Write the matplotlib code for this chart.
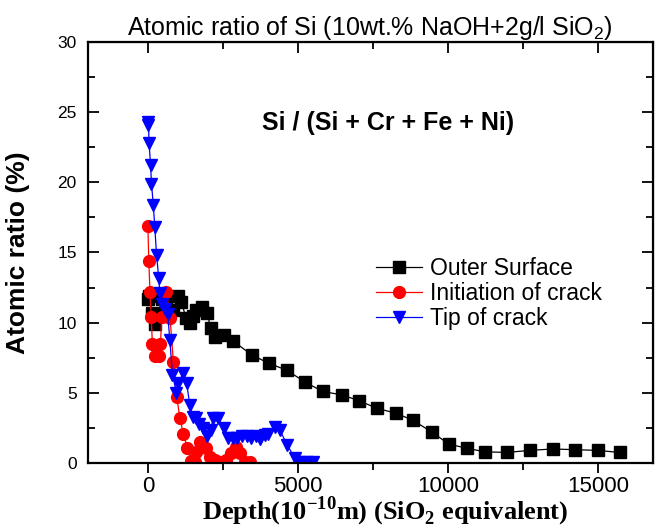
import matplotlib
matplotlib.use("Agg")
import matplotlib.pyplot as plt
from matplotlib.ticker import MultipleLocator

# Outer Surface
outer_x = [0, 30, 150, 230, 330, 480, 600, 850, 1000, 1120, 1270, 1400, 1510, 1620,
           1810, 1980, 2090, 2230, 2530, 2840, 3460, 4040, 4640, 5250, 5830, 6470,
           7030, 7630, 8270, 8830, 9470, 10030, 10630, 11230, 11970, 12730, 13500,
           14230, 15000, 15730]
outer_y = [11.7, 11.9, 10.7, 9.9, 10.6, 11.7, 11.5, 10.9, 11.9, 11.5, 10.3, 10.0, 10.5,
           10.9, 11.1, 10.7, 9.6, 9.0, 9.1, 8.7, 7.7, 7.1, 6.6, 5.75, 5.1, 4.85, 4.45,
           3.9, 3.55, 3.05, 2.2, 1.35, 1.05, 0.8, 0.75, 0.9, 1.0, 0.95, 0.9, 0.75]

# Initiation of crack
init_x = [0, 30, 70, 110, 150, 230, 380, 420, 460, 620, 740, 850, 960, 1070, 1180,
          1310, 1440, 1560, 1620, 1730, 1930, 2070, 2230, 2400, 2600, 2780, 2930, 3080,
          3230, 3400]
init_y = [16.9, 14.4, 12.2, 10.4, 8.5, 7.6, 7.6, 8.5, 10.4, 12.2, 10.3, 7.2, 4.7, 3.2,
          2.1, 1.1, 0.15, 0.1, 0.8, 1.5, 1.05, 0.45, 0.2, 0.1, 0.2, 0.7, 1.15, 0.7,
          0.1, 0.05]

# Tip of crack
tip_x = [0, 20, 40, 90, 120, 180, 230, 290, 360, 400, 460, 570, 660, 730, 820, 950,
         1010, 1180, 1290, 1400, 1490, 1620, 1710, 1840, 1960, 2090, 2180, 2340, 2530,
         2680, 2830, 2980, 3150, 3300, 3450, 3600, 3750, 3900, 4010, 4230, 4400, 4640,
         4900, 5070, 5290, 5510]
tip_y = [24.3, 24.1, 22.8, 21.2, 19.9, 18.4, 16.8, 14.8, 13.2, 12.1, 11.3, 11.0, 10.6,
         8.8, 6.3, 5.0, 5.7, 6.4, 5.7, 4.1, 3.3, 3.2, 2.8, 2.5, 1.9, 2.35, 3.2, 3.2,
         2.5, 1.8, 1.8, 1.8, 1.9, 1.9, 1.8, 1.9, 1.7, 2.0, 2.1, 2.6, 2.35, 1.3, 0.35,
         0.05, 0.05, 0.05]

plt.rcParams['font.family'] = ['Liberation Sans', 'DejaVu Sans']
plt.rcParams['mathtext.fontset'] = 'custom'
plt.rcParams['mathtext.rm'] = 'Liberation Serif'
plt.rcParams['mathtext.bf'] = 'Liberation Serif:bold'

fig = plt.figure(figsize=(6.56, 5.30), dpi=100)
ax = fig.add_axes([0.134, 0.1264, 0.861, 0.7944])

ax.plot(outer_x, outer_y, color='black', lw=0.9, marker='s', ms=8,
        label='Outer Surface')
ax.plot(init_x, init_y, color='red', lw=0.9, marker='o', ms=8.5,
        label='Initiation of crack')
ax.plot(tip_x, tip_y, color='blue', lw=0.9, marker='v', ms=9,
        label='Tip of crack')

ax.set_xlim(-2000, 16830)
ax.set_ylim(0, 30)
ax.xaxis.set_major_locator(MultipleLocator(5000))
ax.xaxis.set_minor_locator(MultipleLocator(2500))
ax.yaxis.set_major_locator(MultipleLocator(5))
ax.yaxis.set_minor_locator(MultipleLocator(2.5))

for s in ax.spines.values():
    s.set_linewidth(1.6)

ax.tick_params(axis='x', which='both', direction='out', labelsize=16, width=1.3)
ax.tick_params(axis='x', which='major', length=7, pad=2)
ax.tick_params(axis='x', which='minor', length=5)
ax.tick_params(axis='y', which='both', direction='in', labelsize=12.5, width=1.3, pad=8)
ax.tick_params(axis='y', which='major', length=8)
ax.tick_params(axis='y', which='minor', length=5)

top = ax.secondary_xaxis('top')
top.xaxis.set_major_locator(MultipleLocator(5000))
top.xaxis.set_minor_locator(MultipleLocator(2500))
top.tick_params(which='both', direction='in', labeltop=False, width=1.3)
top.tick_params(which='major', length=8)
top.tick_params(which='minor', length=5)

right = ax.secondary_yaxis('right')
right.yaxis.set_major_locator(MultipleLocator(5))
right.yaxis.set_minor_locator(MultipleLocator(2.5))
right.tick_params(which='both', direction='in', labelright=False, width=1.3)
right.tick_params(which='major', length=8)
right.tick_params(which='minor', length=5)

ax.set_ylabel('Atomic ratio (%)', fontsize=19, fontweight='bold')
ax.yaxis.set_label_coords(-0.102, 0.5)
ax.set_xlabel(r'Depth(10$^{\mathbf{-10}}$m) (SiO$_{\mathbf{2}}$ equivalent)',
              fontsize=19, fontweight='bold', family='Liberation Serif',
              va='baseline')
ax.xaxis.set_label_coords(0.527, -0.134)
ax.set_title(r'Atomic ratio of Si (10wt.% NaOH+2g/l SiO$_{\mathregular{2}}$)',
             fontsize=18, pad=4)

ax.text(8000, 24.2, 'Si / (Si + Cr + Fe + Ni)', fontsize=18, fontweight='bold',
        ha='center', va='center')

ax.legend(loc='upper left', bbox_to_anchor=(0.51, 0.49), frameon=False,
          fontsize=16.5, numpoints=1, handlelength=2.0, handletextpad=0.35,
          labelspacing=0.1, borderaxespad=0, borderpad=0)

fig.savefig('out.png', dpi=100)
